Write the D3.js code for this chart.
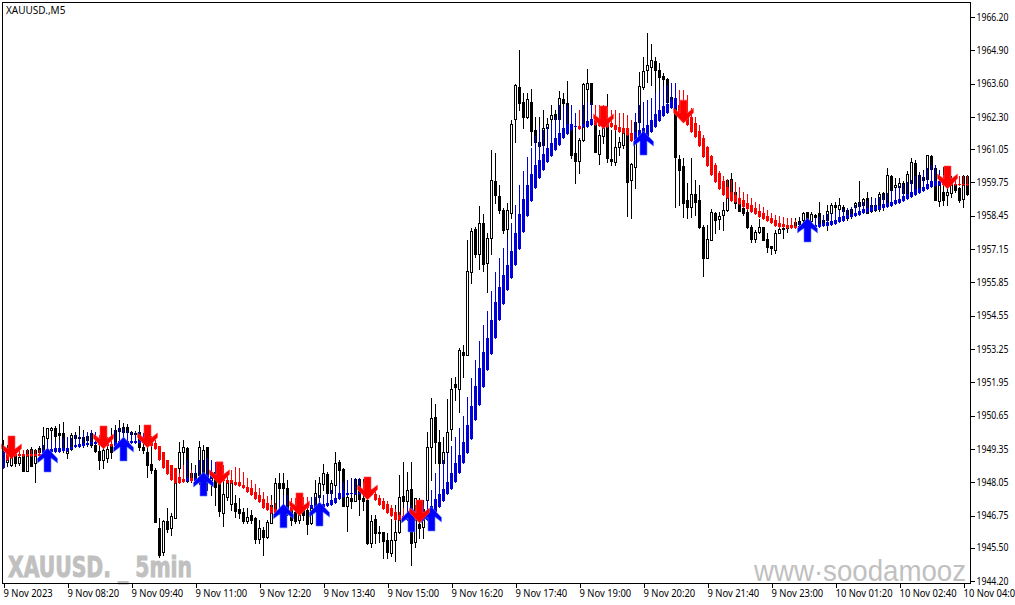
<!DOCTYPE html>
<html>
<head>
<meta charset="utf-8">
<title>XAUUSD.,M5</title>
<script src="https://cdn.jsdelivr.net/npm/d3@7/dist/d3.min.js"></script>
<style>
html, body { margin: 0; padding: 0; background: #fff; overflow: hidden; }
text { font-family: "Noto Sans", Tahoma, sans-serif; }
</style>
</head>
<body>
<script>
var priceTicks = [1966.20, 1964.90, 1963.60, 1962.30, 1961.05, 1959.75, 1958.45, 1957.15, 1955.85, 1954.55, 1953.25, 1951.95, 1950.65, 1949.35, 1948.05, 1946.75, 1945.50, 1944.20];
var timeTicks = [0, 16, 32, 48, 64, 80, 96, 112, 128, 144, 160, 176, 192, 208, 224, 240];
var timeLabels = ["9 Nov 2023", "9 Nov 08:20", "9 Nov 09:40", "9 Nov 11:00", "9 Nov 12:20", "9 Nov 13:40", "9 Nov 15:00", "9 Nov 16:20", "9 Nov 17:40", "9 Nov 19:00", "9 Nov 20:20", "9 Nov 21:40", "9 Nov 23:00", "10 Nov 01:20", "10 Nov 02:40", "10 Nov 04:00"];

var candleOpen = [
1949.23,1948.84,1948.73,1949.12,1948.80,1949.12,1948.49,1949.35,1948.80,1949.39,
1949.31,1949.78,1950.09,1950.17,1949.98,1949.98,1949.19,1949.35,1949.90,1949.82,
1949.59,1949.86,1949.98,1949.51,1949.27,1948.92,1949.00,1949.51,1949.51,1950.05,
1950.02,1950.21,1950.02,1949.98,1950.02,1949.43,1949.23,1948.76,1948.53,1946.27,
1945.33,1946.54,1946.27,1946.66,1948.61,1949.23,1949.39,1948.14,1948.41,1948.34,
1948.41,1949.43,1948.14,1948.45,1948.03,1946.86,1947.48,1947.21,1947.25,1947.01,
1946.89,1946.54,1946.78,1946.66,1945.84,1946.19,1945.92,1946.46,1946.89,1948.03,
1948.03,1947.83,1947.05,1946.89,1946.58,1947.05,1946.97,1946.46,1947.13,1947.48,
1947.99,1948.38,1947.63,1947.95,1948.84,1948.57,1947.13,1947.44,1947.32,1948.18,
1947.44,1947.36,1945.68,1946.62,1946.11,1946.11,1945.80,1945.30,1945.80,1946.11,
1947.52,1947.32,1947.79,1945.72,1946.43,1946.31,1947.36,1949.43,1950.60,1949.63,
1948.80,1949.23,1950.13,1951.89,1951.69,1953.14,1953.02,1956.25,1957.93,1956.96,
1958.16,1956.61,1957.58,1959.80,1959.22,1958.67,1957.93,1958.55,1962.22,1963.47,
1962.88,1962.30,1962.88,1961.79,1961.32,1961.21,1961.87,1962.22,1962.42,1962.22,
1963.00,1962.85,1961.79,1960.90,1960.58,1961.40,1963.39,1963.63,1962.06,1960.86,
1961.56,1961.99,1960.66,1960.54,1961.13,1961.21,1961.87,1959.84,1960.35,1962.10,
1963.47,1964.13,1964.25,1964.48,1964.13,1963.90,1963.78,1963.08,1963.04,1960.66,
1960.39,1959.06,1958.79,1959.30,1959.06,1958.01,1956.80,1957.50,1958.56,1958.32,
1958.48,1958.67,1959.88,1959.37,1958.95,1958.75,1958.59,1958.01,1957.54,1957.81,
1958.01,1957.54,1957.27,1957.11,1957.78,1957.97,1958.01,1958.01,1958.09,1958.24,
1958.28,1958.59,1958.24,1958.48,1958.56,1958.28,1958.28,1958.56,1958.87,1958.71,
1958.79,1958.36,1958.71,1958.79,1958.98,1958.87,1959.14,1958.63,1958.87,1958.71,
1959.34,1958.95,1960.00,1959.57,1959.57,1959.73,1959.34,1959.73,1960.50,1959.45,
1959.96,1959.88,1960.78,1960.31,1959.02,1959.37,1959.26,1959.34,1959.65,1959.53,
1959.10,1960.00];
var candleHigh = [
1949.70,1949.51,1949.12,1949.35,1949.12,1949.19,1949.35,1949.43,1949.35,1949.47,
1950.21,1950.17,1950.21,1950.25,1950.33,1950.41,1949.59,1949.98,1950.02,1950.25,
1950.09,1950.02,1950.02,1949.70,1949.51,1949.51,1949.51,1950.17,1950.29,1950.48,
1950.37,1950.33,1950.05,1950.05,1950.29,1949.70,1949.43,1949.59,1948.61,1946.66,
1946.58,1947.05,1946.86,1948.45,1949.63,1949.70,1949.43,1948.80,1948.73,1949.66,
1949.51,1949.43,1948.84,1948.53,1948.73,1948.45,1948.22,1948.53,1947.56,1947.44,
1947.05,1947.05,1946.97,1946.70,1946.58,1946.31,1946.58,1947.56,1948.22,1948.41,
1948.41,1948.14,1947.25,1947.05,1946.97,1947.36,1947.17,1947.17,1948.14,1948.26,
1948.76,1948.45,1948.14,1949.23,1948.92,1948.61,1948.14,1948.22,1948.22,1948.18,
1948.18,1948.14,1946.78,1946.78,1946.35,1946.11,1946.08,1946.62,1947.17,1948.34,
1948.84,1948.45,1948.84,1947.44,1947.44,1947.36,1950.02,1951.34,1951.11,1950.09,
1949.82,1951.30,1952.12,1952.16,1953.29,1953.41,1957.50,1957.97,1958.01,1958.83,
1958.51,1957.78,1961.01,1960.90,1959.65,1958.75,1958.95,1962.18,1963.59,1964.91,
1963.23,1963.23,1963.39,1962.30,1962.30,1962.57,1962.26,1962.77,1962.57,1963.31,
1963.23,1963.70,1962.77,1961.91,1961.48,1963.63,1964.17,1963.63,1962.46,1961.79,
1962.30,1963.20,1961.79,1962.57,1961.52,1962.46,1961.91,1960.50,1962.14,1964.05,
1964.64,1965.57,1965.14,1964.64,1964.40,1964.01,1963.82,1963.59,1963.08,1960.82,
1960.70,1959.73,1960.70,1959.84,1959.65,1958.09,1958.09,1958.71,1958.59,1958.59,
1958.98,1959.88,1960.11,1959.53,1959.26,1958.87,1958.95,1958.09,1957.89,1958.32,
1958.01,1957.78,1957.27,1957.89,1958.17,1958.20,1958.20,1958.36,1958.36,1958.40,
1958.59,1958.59,1958.59,1958.52,1958.98,1958.48,1958.87,1958.95,1958.98,1959.14,
1958.87,1958.71,1958.75,1958.98,1959.80,1959.14,1959.37,1959.18,1958.95,1959.37,
1959.37,1960.31,1960.04,1959.92,1959.92,1959.80,1960.19,1960.70,1960.62,1960.15,
1960.23,1960.82,1960.82,1960.35,1959.76,1960.35,1959.84,1960.00,1960.00,1959.57,
1960.04,1960.04];
var candleLow = [
1948.61,1948.69,1948.69,1948.69,1948.73,1948.49,1948.49,1948.69,1948.06,1949.12,
1949.19,1949.43,1949.59,1949.39,1949.39,1949.23,1949.00,1949.31,1949.47,1949.47,
1949.43,1949.47,1949.43,1949.23,1948.57,1948.61,1948.84,1949.00,1949.39,1949.70,
1949.70,1949.51,1949.63,1949.86,1949.31,1949.19,1948.26,1948.41,1946.50,1945.14,
1945.22,1946.11,1946.00,1946.66,1948.03,1948.53,1948.06,1948.06,1948.06,1947.99,
1947.75,1947.75,1947.56,1947.17,1946.74,1946.35,1947.36,1946.97,1946.70,1946.66,
1946.46,1946.46,1946.46,1945.68,1945.68,1945.22,1945.88,1946.46,1946.89,1946.97,
1946.89,1946.78,1946.39,1946.46,1946.46,1946.58,1946.04,1946.43,1946.97,1947.36,
1947.75,1947.56,1947.36,1947.48,1947.75,1947.13,1946.15,1947.05,1947.32,1946.78,
1946.97,1945.65,1945.53,1945.68,1945.72,1945.10,1945.10,1945.18,1944.98,1946.08,
1946.78,1946.86,1944.83,1945.53,1945.88,1945.88,1947.09,1948.14,1948.80,1948.61,
1948.03,1948.65,1949.70,1951.26,1950.79,1952.16,1953.02,1955.83,1956.84,1956.37,
1956.29,1955.47,1956.96,1958.95,1958.55,1957.78,1957.00,1958.36,1961.32,1962.57,
1961.87,1962.26,1961.21,1960.50,1960.50,1960.50,1961.48,1961.68,1961.40,1962.10,
1962.06,1961.68,1960.70,1959.73,1960.11,1961.36,1962.57,1962.46,1960.93,1960.47,
1961.29,1960.54,1960.43,1960.43,1960.82,1961.09,1958.44,1958.36,1959.53,1962.10,
1963.39,1963.66,1963.55,1963.23,1963.23,1963.35,1962.65,1962.69,1958.79,1958.87,
1958.40,1958.36,1958.40,1958.48,1957.97,1956.10,1956.80,1957.50,1957.78,1957.93,
1957.89,1958.63,1959.14,1958.75,1958.63,1958.48,1957.97,1957.43,1957.43,1957.78,
1957.50,1957.03,1956.96,1957.00,1957.78,1957.58,1957.81,1957.97,1957.97,1958.01,
1958.09,1957.93,1958.20,1958.01,1958.01,1958.05,1957.89,1958.17,1958.28,1958.36,
1958.36,1958.28,1958.36,1958.48,1958.48,1958.56,1958.56,1958.59,1958.63,1958.63,
1958.67,1958.79,1958.98,1958.98,1959.06,1959.26,1959.26,1959.65,1959.37,1959.37,
1959.53,1959.84,1959.76,1959.06,1958.83,1958.87,1958.87,1959.18,1959.37,1958.98,
1958.79,1959.26];
var candleClose = [
1948.84,1949.19,1949.04,1948.80,1949.04,1948.49,1949.31,1948.69,1949.31,1949.23,
1949.86,1950.17,1950.17,1949.86,1949.90,1949.31,1949.31,1949.90,1949.78,1949.78,
1949.82,1949.70,1949.51,1949.27,1948.92,1949.31,1949.35,1949.23,1950.09,1950.17,
1950.21,1950.02,1949.94,1949.94,1949.43,1949.31,1948.73,1948.53,1946.50,1945.22,
1946.54,1946.23,1946.74,1948.22,1949.23,1949.43,1948.10,1948.41,1948.14,1949.43,
1949.31,1948.26,1948.45,1947.87,1946.93,1947.60,1948.03,1948.03,1946.93,1946.86,
1946.54,1946.70,1946.58,1945.84,1946.27,1945.92,1946.50,1947.17,1948.03,1947.83,
1947.83,1946.86,1946.58,1946.54,1946.78,1946.78,1946.43,1947.09,1947.63,1948.03,
1948.41,1947.63,1948.03,1948.80,1948.53,1947.13,1947.48,1947.32,1948.18,1947.40,
1947.32,1945.68,1946.54,1946.08,1946.08,1945.76,1945.33,1945.80,1946.11,1947.48,
1947.32,1947.75,1945.68,1947.44,1946.27,1947.01,1949.43,1950.56,1949.63,1948.80,
1949.23,1950.02,1951.69,1951.77,1953.21,1953.02,1956.29,1957.85,1956.96,1958.16,
1956.57,1957.58,1959.84,1959.26,1958.67,1957.89,1958.67,1962.03,1963.55,1962.85,
1962.30,1963.00,1961.75,1961.32,1961.17,1961.87,1962.03,1962.38,1962.22,1963.04,
1962.85,1961.68,1960.82,1960.58,1961.40,1963.59,1963.63,1962.81,1960.93,1961.60,
1961.87,1960.70,1960.58,1961.13,1961.32,1961.87,1959.76,1960.47,1962.10,1963.51,
1964.09,1964.33,1964.52,1964.13,1963.86,1963.78,1962.88,1962.77,1960.74,1960.23,
1958.95,1958.79,1959.30,1958.98,1958.01,1956.80,1957.54,1958.59,1958.28,1958.44,
1958.67,1959.84,1959.37,1958.95,1958.63,1958.55,1958.01,1957.54,1957.81,1958.01,
1957.50,1957.23,1957.19,1957.78,1957.93,1957.93,1957.97,1958.09,1958.20,1958.13,
1958.56,1958.28,1958.52,1958.40,1958.09,1958.09,1958.63,1958.87,1958.79,1958.87,
1958.63,1958.67,1958.48,1958.95,1958.83,1959.10,1958.56,1958.87,1958.67,1959.30,
1959.10,1960.04,1959.45,1959.65,1959.73,1959.34,1960.08,1960.54,1959.49,1960.04,
1959.84,1960.82,1960.27,1959.06,1959.73,1959.06,1959.37,1959.73,1959.45,1959.06,
1960.00,1959.30];

var signalHigh = [
1949.51,1949.23,1949.31,1949.31,1949.31,1949.31,1949.31,1949.31,1949.31,1949.31,
1949.51,1949.70,1949.70,1949.63,1949.70,1949.78,1949.82,1949.78,1949.90,1949.90,
1949.98,1950.02,1950.09,1950.02,1949.90,1949.82,1949.82,1949.78,1950.09,1950.17,
1950.17,1950.09,1950.02,1950.02,1950.02,1949.98,1949.94,1949.86,1949.70,1949.47,
1949.23,1948.92,1948.73,1948.61,1948.41,1948.73,1948.92,1948.53,1948.53,1948.92,
1948.92,1949.00,1948.92,1948.84,1948.84,1948.73,1948.41,1948.53,1948.65,1948.61,
1948.45,1948.22,1948.14,1947.99,1947.83,1947.67,1947.52,1947.36,1947.25,1947.36,
1947.56,1947.56,1947.44,1947.44,1947.48,1947.48,1947.48,1947.48,1947.48,1947.56,
1947.56,1947.60,1947.75,1947.87,1948.03,1948.06,1948.14,1948.18,1948.22,1948.22,
1948.06,1948.14,1947.79,1947.71,1947.56,1947.44,1947.32,1947.17,1947.01,1946.89,
1947.05,1947.17,1947.17,1947.17,1947.17,1947.17,1947.36,1947.75,1948.41,1948.61,
1948.92,1949.19,1949.47,1949.82,1950.17,1950.64,1951.38,1952.12,1952.82,1953.56,
1954.19,1954.73,1955.51,1956.25,1956.80,1957.19,1957.58,1958.17,1958.87,1959.65,
1960.19,1960.74,1961.09,1961.56,1961.95,1961.79,1961.91,1962.06,1962.30,1962.77,
1962.69,1962.77,1962.77,1962.46,1962.57,1962.77,1962.88,1962.85,1962.77,1962.77,
1962.77,1962.69,1962.57,1962.57,1962.46,1962.46,1962.38,1962.18,1962.46,1962.77,
1962.88,1962.96,1963.04,1963.23,1963.35,1963.51,1963.55,1963.63,1963.63,1963.35,
1963.35,1963.16,1962.65,1962.30,1961.99,1961.60,1961.17,1960.82,1960.50,1960.19,
1960.00,1959.88,1959.84,1959.76,1959.57,1959.37,1959.30,1959.14,1958.98,1958.91,
1958.79,1958.67,1958.56,1958.48,1958.44,1958.40,1958.36,1958.36,1958.28,1958.20,
1958.20,1958.20,1958.20,1958.36,1958.40,1958.48,1958.52,1958.56,1958.59,1958.67,
1958.71,1958.75,1958.79,1958.87,1958.95,1958.98,1959.02,1959.10,1959.14,1959.18,
1959.26,1959.34,1959.41,1959.53,1959.61,1959.69,1959.76,1959.84,1960.00,1960.04,
1960.15,1960.31,1960.43,1960.43,1960.23,1960.04,1960.00,1959.92,1960.00,1960.00,
1960.00,1960.00];
var signalTop = [
1949.23,1949.16,1949.16,1949.16,1949.16,1949.16,1949.16,1949.16,1949.16,1949.16,
1949.31,1949.35,1949.35,1949.39,1949.39,1949.39,1949.39,1949.43,1949.51,1949.55,
1949.59,1949.59,1949.63,1949.63,1949.59,1949.55,1949.55,1949.55,1949.63,1949.66,
1949.66,1949.66,1949.66,1949.66,1949.66,1949.66,1949.63,1949.63,1949.59,1949.47,
1949.23,1948.92,1948.73,1948.61,1948.26,1948.18,1948.22,1948.22,1948.22,1948.26,
1948.30,1948.38,1948.38,1948.38,1948.34,1948.26,1948.14,1948.14,1948.06,1948.06,
1947.95,1947.87,1947.83,1947.67,1947.56,1947.40,1947.25,1947.09,1947.01,1946.97,
1947.05,1947.09,1947.09,1947.13,1947.17,1947.17,1947.21,1947.17,1947.17,1947.21,
1947.21,1947.25,1947.36,1947.44,1947.63,1947.75,1947.63,1947.63,1947.63,1947.63,
1947.67,1947.75,1947.75,1947.59,1947.44,1947.32,1947.21,1947.05,1946.89,1946.78,
1946.74,1946.74,1946.78,1946.74,1946.74,1946.78,1946.89,1947.13,1947.40,1947.60,
1947.79,1948.06,1948.41,1948.80,1949.12,1949.63,1950.29,1951.03,1951.81,1952.51,
1953.14,1953.68,1954.38,1955.08,1955.67,1956.14,1956.53,1957.07,1957.78,1958.52,
1959.10,1959.65,1960.08,1960.43,1960.62,1960.86,1961.09,1961.29,1961.48,1961.68,
1961.87,1962.03,1962.03,1961.95,1961.95,1962.03,1962.14,1962.22,1962.26,1962.18,
1962.18,1962.10,1962.06,1961.99,1961.91,1961.87,1961.87,1961.68,1961.71,1961.79,
1961.87,1961.99,1962.18,1962.42,1962.57,1962.73,1962.81,1962.96,1963.04,1962.77,
1962.65,1962.46,1962.30,1962.06,1961.75,1961.48,1961.13,1960.78,1960.43,1960.11,
1959.80,1959.57,1959.37,1959.26,1959.14,1959.06,1958.95,1958.87,1958.75,1958.63,
1958.56,1958.44,1958.36,1958.28,1958.17,1958.13,1958.09,1958.09,1958.05,1958.05,
1958.05,1958.05,1958.05,1958.09,1958.13,1958.17,1958.20,1958.24,1958.28,1958.40,
1958.44,1958.48,1958.52,1958.56,1958.63,1958.71,1958.75,1958.79,1958.83,1958.83,
1958.91,1958.95,1958.98,1959.06,1959.10,1959.22,1959.30,1959.37,1959.49,1959.53,
1959.57,1959.69,1959.80,1959.80,1959.80,1959.76,1959.73,1959.69,1959.69,1959.69,
1959.69,1959.69];
var signalBottom = [
1948.61,1948.92,1949.08,1949.08,1949.08,1949.08,1949.08,1949.08,1949.08,1949.08,
1949.19,1949.23,1949.23,1949.23,1949.23,1949.27,1949.27,1949.35,1949.43,1949.43,
1949.47,1949.51,1949.55,1949.55,1949.51,1949.47,1949.47,1949.47,1949.47,1949.55,
1949.59,1949.59,1949.59,1949.59,1949.59,1949.59,1949.51,1949.47,1949.35,1948.92,
1948.61,1948.38,1948.14,1948.03,1948.03,1948.06,1948.10,1948.10,1948.10,1948.10,
1948.14,1948.22,1948.22,1948.22,1948.14,1948.10,1948.03,1948.03,1947.95,1947.91,
1947.83,1947.67,1947.56,1947.40,1947.28,1947.05,1946.97,1946.86,1946.82,1946.82,
1946.89,1946.93,1946.93,1946.97,1947.01,1947.05,1947.05,1947.05,1947.05,1947.09,
1947.09,1947.13,1947.17,1947.25,1947.40,1947.48,1947.56,1947.59,1947.59,1947.59,
1947.59,1947.59,1947.56,1947.36,1947.17,1947.01,1946.86,1946.74,1946.58,1946.58,
1946.58,1946.58,1946.58,1946.58,1946.58,1946.58,1946.58,1946.74,1946.89,1947.09,
1947.32,1947.60,1947.79,1948.06,1948.41,1948.80,1949.19,1949.74,1950.48,1951.07,
1951.77,1952.43,1953.06,1953.68,1954.38,1955.00,1955.55,1956.02,1956.53,1957.15,
1957.81,1958.44,1959.02,1959.53,1959.92,1960.23,1960.54,1960.78,1961.01,1961.21,
1961.48,1961.64,1961.79,1961.91,1961.83,1961.91,1961.91,1961.99,1961.99,1961.95,
1961.95,1961.91,1961.91,1961.79,1961.71,1961.68,1961.60,1961.36,1961.40,1961.44,
1961.52,1961.52,1961.71,1961.91,1962.14,1962.34,1962.46,1962.65,1962.65,1962.38,
1962.18,1961.99,1961.71,1961.52,1961.17,1960.74,1960.39,1960.04,1959.76,1959.49,
1959.26,1959.14,1959.02,1958.98,1958.91,1958.79,1958.71,1958.59,1958.52,1958.40,
1958.32,1958.24,1958.17,1958.05,1958.01,1958.01,1957.97,1957.97,1957.97,1957.97,
1957.97,1957.97,1957.97,1958.01,1958.01,1958.05,1958.05,1958.09,1958.13,1958.20,
1958.24,1958.36,1958.40,1958.44,1958.48,1958.56,1958.59,1958.63,1958.67,1958.71,
1958.75,1958.79,1958.83,1958.91,1958.95,1959.02,1959.10,1959.18,1959.26,1959.34,
1959.41,1959.49,1959.57,1959.61,1959.65,1959.65,1959.65,1959.65,1959.65,1959.65,
1959.65,1959.65];
var signalRedRuns = [[1, 9], [24, 27], [36, 45], [47, 47], [54, 68], [72, 76], [90, 100], [103, 104], [144, 144], [148, 157], [169, 198], [235, 241]];

var redArrowIndex = [2, 25, 36, 54, 74, 91, 104, 150, 170, 236];
var redArrowPrice = [1948.96, 1949.35, 1949.39, 1947.95, 1946.74, 1947.36, 1946.46, 1961.83, 1962.06, 1959.49];
var blueArrowIndex = [11, 30, 50, 70, 79, 102, 107, 160, 201];
var blueArrowPrice = [1949.39, 1949.82, 1948.45, 1947.21, 1947.28, 1947.05, 1947.09, 1961.75, 1958.36];

var svg = d3.select("body").append("svg").attr("width", 1015).attr("height", 605).style("display", "block");

var x = d3.scaleLinear().domain([0, 241]).range([3.5, 967.5]);
var y = d3.scaleLinear().domain([1944.2, 1966.2]).range([581, 17]);
var py = function(v) { return Math.round(y(v)) + 0.5; };

var inRed = function(i) { return signalRedRuns.some(function(r) { return i >= r[0] && i <= r[1]; }); };
var signalColor = function(i) { return inRed(i) ? "#ff0000" : "#0000d8"; };

// watermarks sit under the candles
svg.append("text").attr("x", 8).attr("y", 577)
  .attr("textLength", 184).attr("lengthAdjust", "spacingAndGlyphs")
  .style("font-family", "'Liberation Sans Narrow', 'DejaVu Sans Condensed', sans-serif")
  .attr("font-weight", "bold").attr("font-size", 29).attr("fill", "#c0c0c0")
  .attr("stroke", "#c0c0c0").attr("stroke-width", 0.9)
  .style("white-space", "pre").text("XAUUSD. _ 5min");
svg.append("text").attr("x", 754).attr("y", 581)
  .attr("textLength", 212).attr("lengthAdjust", "spacingAndGlyphs")
  .style("font-family", "'Liberation Sans', sans-serif")
  .attr("font-size", 29).attr("fill", "#c0c0c0").text("www·soodamooz");

var plot = svg.append("g").attr("shape-rendering", "crispEdges");

// wicks
plot.selectAll("line.wick").data(candleOpen).enter().append("line")
  .attr("class", "wick")
  .attr("x1", function(d, i) { return x(i); }).attr("x2", function(d, i) { return x(i); })
  .attr("y1", function(d, i) { return py(candleHigh[i]) - 0.5; })
  .attr("y2", function(d, i) { return py(candleLow[i]) + 0.5; })
  .attr("stroke", "#000").attr("stroke-width", 1);

// bodies
plot.selectAll("rect.body").data(candleOpen).enter().append("rect")
  .attr("class", "body")
  .attr("x", function(d, i) { return x(i) - 1; })
  .attr("width", 2)
  .attr("y", function(d, i) { return py(Math.max(d, candleClose[i])); })
  .attr("height", function(d, i) { return Math.max(py(Math.min(d, candleClose[i])) - py(Math.max(d, candleClose[i])), 1); })
  .attr("fill", function(d, i) { return candleClose[i] > d ? "#fff" : "#000"; })
  .attr("stroke", "#000").attr("stroke-width", 1);

// smoothed indicator, thin line then thick bar
plot.selectAll("line.signal").data(signalHigh).enter().append("line")
  .attr("class", "signal")
  .attr("x1", function(d, i) { return x(i); }).attr("x2", function(d, i) { return x(i); })
  .attr("y1", function(d) { return py(d) - 0.5; })
  .attr("y2", function(d, i) { return py(signalBottom[i]); })
  .attr("stroke", function(d, i) { return signalColor(i); }).attr("stroke-width", 1);

plot.selectAll("rect.signal").data(signalTop).enter().append("rect")
  .attr("class", "signal")
  .attr("x", function(d, i) { return x(i) - 1.5; })
  .attr("width", 3)
  .attr("y", function(d) { return py(d) - 0.5; })
  .attr("height", function(d, i) { return Math.max(py(signalBottom[i]) - py(d), 1); })
  .attr("fill", function(d, i) { return signalColor(i); });

// arrows, drawn from the tip
var arrowUp = "M0,0 L10,10.5 L10,15 L3.5,10 L3.5,24 L-3.5,24 L-3.5,10 L-10,15 L-10,10.5 Z";
var arrowDown = "M0,0 L10,-10.5 L10,-15 L3.5,-10 L3.5,-23 L-3.5,-23 L-3.5,-10 L-10,-15 L-10,-10.5 Z";

svg.selectAll("path.up").data(blueArrowIndex).enter().append("path")
  .attr("class", "up").attr("d", arrowUp)
  .attr("transform", function(d, i) { return "translate(" + x(d) + "," + y(blueArrowPrice[i]) + ")"; })
  .attr("fill", "#0000ff").attr("stroke", "#5a7cff").attr("stroke-width", 0.6);
svg.selectAll("path.down").data(redArrowIndex).enter().append("path")
  .attr("class", "down").attr("d", arrowDown)
  .attr("transform", function(d, i) { return "translate(" + x(d) + "," + y(redArrowPrice[i]) + ")"; })
  .attr("fill", "#ff0000").attr("stroke", "#ff5050").attr("stroke-width", 0.6);

// frame
svg.append("rect").attr("x", 2.5).attr("y", 2.5).attr("width", 968).attr("height", 581)
  .attr("fill", "none").attr("stroke", "#000").attr("shape-rendering", "crispEdges");

// axes
var priceAxis = d3.axisRight(y).tickValues(priceTicks).tickFormat(d3.format(".2f")).tickSize(4).tickPadding(2);
var gy = svg.append("g").attr("transform", "translate(970.5,0)").call(priceAxis);
gy.select(".domain").remove();
gy.selectAll("text").attr("font-size", 10).attr("fill", "#000").style("font-family", "'Noto Sans', sans-serif")
  .attr("textLength", 32).attr("lengthAdjust", "spacingAndGlyphs");
gy.selectAll("line").attr("stroke", "#000").attr("shape-rendering", "crispEdges");

var timeAxis = d3.axisBottom(x).tickValues(timeTicks)
  .tickFormat(function(d, i) { return timeLabels[i]; }).tickSize(4).tickPadding(2);
var gx = svg.append("g").attr("transform", "translate(0,583.5)").call(timeAxis);
gx.select(".domain").remove();
gx.selectAll("text").attr("text-anchor", "start").attr("x", -0.5).attr("font-size", 10).attr("fill", "#000").style("font-family", "'Noto Sans', sans-serif")
  .attr("textLength", function() { return this.getComputedTextLength() * 0.94; }).attr("lengthAdjust", "spacingAndGlyphs");
gx.selectAll("line").attr("stroke", "#000").attr("shape-rendering", "crispEdges");

svg.append("text").attr("x", 6).attr("y", 14).attr("font-size", 10).attr("fill", "#000").text("XAUUSD.,M5");
</script>
</body>
</html>
